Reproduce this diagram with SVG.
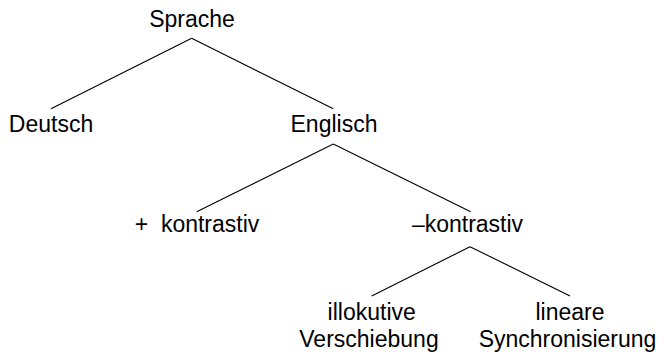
<svg xmlns="http://www.w3.org/2000/svg" width="665" height="356" viewBox="0 0 665 356">
<style>
text{font-family:"Liberation Sans",Arial,sans-serif;font-size:23px;fill:#000;text-anchor:middle}
line{stroke:#000;stroke-width:1.1}
</style>
<rect width="665" height="356" fill="#fff"/>
<g id="connectors">
<line x1="191.7" y1="38.3" x2="51" y2="108.7"/>
<line x1="191.7" y1="38.3" x2="333.3" y2="108.7"/>
<line x1="333.3" y1="144" x2="196.7" y2="211.7"/>
<line x1="333.3" y1="144" x2="470.7" y2="211.7"/>
<line x1="470" y1="246.7" x2="371.7" y2="296"/>
<line x1="470" y1="246.7" x2="570" y2="296"/>
</g>
<g id="sprache"><text x="192" y="27">Sprache</text></g>
<g id="deutsch"><text x="51" y="131.7">Deutsch</text></g>
<g id="englisch"><text x="334" y="131.7">Englisch</text></g>
<g id="plus-kontrastiv"><text x="197" y="232.3" xml:space="preserve">+  kontrastiv</text></g>
<g id="minus-kontrastiv"><text x="467.5" y="232.3">–kontrastiv</text></g>
<g id="illokutive"><text x="371.7" y="320">illokutive</text><text x="369" y="347.3">Verschiebung</text></g>
<g id="lineare"><text x="570" y="320">lineare</text><text x="567.5" y="347.3">Synchronisierung</text></g>
</svg>
